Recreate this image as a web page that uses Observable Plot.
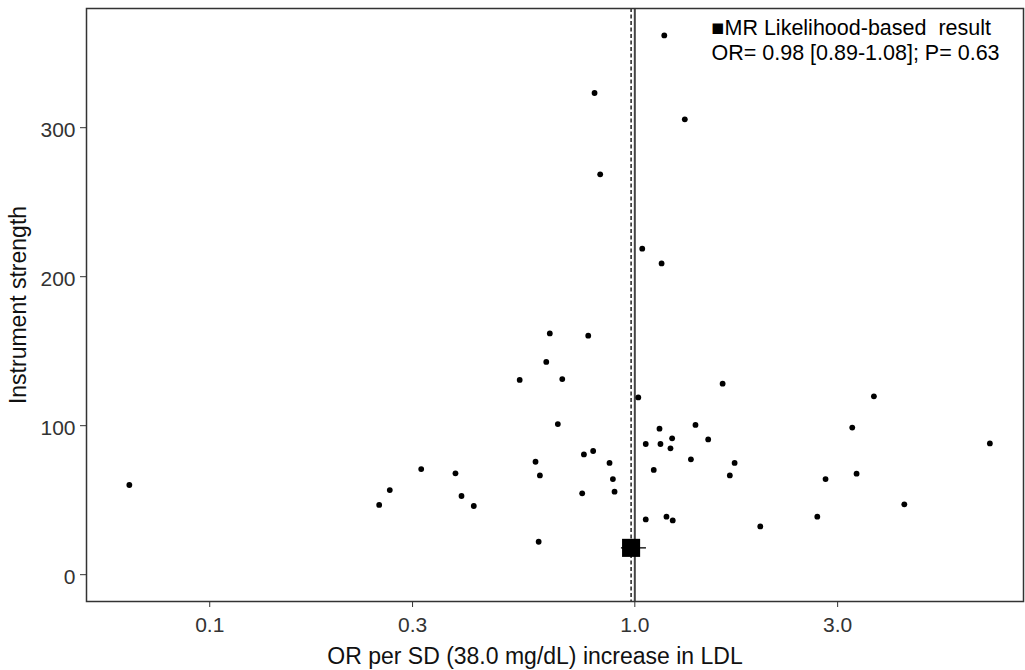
<!DOCTYPE html>
<html>
<head>
<meta charset="utf-8">
<script src="https://cdn.jsdelivr.net/npm/d3@7"></script>
<script src="https://cdn.jsdelivr.net/npm/@observablehq/plot@0.6"></script>
<style>
  html, body { margin: 0; padding: 0; background: #fff; }
  #chart { width: 1025px; height: 670px; }
</style>
</head>
<body>
<div id="chart"></div>
<script>
// Per-SNP odds ratios (x) and instrument strength (y)
const orValues = [
  0.0647, 0.2504, 0.2652, 0.3144, 0.3785, 0.3911, 0.4180,
  0.631, 0.777, 0.619, 0.536, 0.675, 1.609, 1.019, 0.659, 1.143, 1.389,
  1.224, 1.488, 1.061, 1.149, 1.213, 0.798, 0.759, 1.355, 0.584, 0.872,
  1.717, 1.108, 0.598, 1.673, 0.888, 0.752, 0.896, 1.061, 1.187, 1.228,
  1.973, 0.594,
  1.173, 0.804, 1.311, 0.829, 1.041, 1.156,
  3.651, 3.247, 6.843, 2.810, 3.324, 4.305, 2.687
];
const strengthValues = [
  60.2, 46.8, 56.8, 70.9, 68.0, 52.8, 46.1,
  161.9, 160.4, 142.8, 130.7, 131.3, 128.2, 119.0, 101.1, 98.0, 100.5,
  91.5, 90.8, 87.7, 87.7, 84.8, 83.0, 80.7, 77.4, 75.8, 75.0,
  75.0, 70.3, 66.6, 66.6, 64.2, 54.6, 55.7, 37.1, 38.9, 36.4,
  32.4, 22.1,
  361.9, 323.3, 305.6, 268.7, 218.8, 208.9,
  119.7, 98.7, 88.1, 64.2, 67.8, 47.2, 38.9
];

// Summary (MR likelihood-based) estimate
const summaryOR = [0.98];
const summaryStrength = [18];
const summaryCILow = [0.93];
const summaryCIHigh = [1.065];
const nullLine = [1];

const xTicks = [0.1, 0.3, 1, 3];
const yTicks = [0, 100, 200, 300];
const xTitle = ["OR per SD (38.0 mg/dL) increase in LDL"];
const legendLines = ["\u25A0MR Likelihood-based\u00A0 result", "OR= 0.98 [0.89-1.08]; P= 0.63"];

const points = orValues.map((v, i) => ({or: v, strength: strengthValues[i]}));
const summary = summaryOR.map((v, i) => ({or: v, strength: summaryStrength[i], lo: summaryCILow[i], hi: summaryCIHigh[i]}));

const chart = Plot.plot({
  width: 1025,
  height: 670,
  marginLeft: 86,
  marginRight: 2,
  marginTop: 8,
  marginBottom: 69,
  style: {fontFamily: "'Liberation Sans', Arial, sans-serif", fontSize: "21px", color: "#000", background: "#fff", overflow: "visible"},
  x: {type: "log", domain: [0.0513, 8.21]},
  y: {domain: [-18, 380]},
  marks: [
    Plot.ruleX(nullLine, {stroke: "#444", strokeWidth: 2}),
    Plot.ruleX(summaryOR, {stroke: "#000", strokeWidth: 1.3, strokeDasharray: "4,2.5"}),
    Plot.dot(points, {x: "or", y: "strength", r: 2.9, fill: "#000", stroke: null}),
    Plot.ruleY(summary, {x1: "lo", x2: "hi", y: "strength", stroke: "#000", strokeWidth: 1.3}),
    Plot.dot(summary, {x: "or", y: "strength", symbol: "square", r: 10.2, fill: "#000", stroke: null}),
    Plot.text([legendLines[0]], {frameAnchor: "top-right", text: d => d, dx: -312, dy: 11, textAnchor: "start", fontSize: 21.5, fill: "#000"}),
    Plot.text([legendLines[1]], {frameAnchor: "top-right", text: d => d, dx: -312, dy: 36, textAnchor: "start", fontSize: 21.5, fill: "#000"}),
    Plot.frame({stroke: "#333", strokeWidth: 1.5}),
    Plot.axisX({ticks: xTicks, tickFormat: d3.format(".1f"), tickSize: 6, tickPadding: 10, stroke: "#333",
      fill: "#333", fontSize: 21, labelArrow: "none", label: null}),
    Plot.text(xTitle, {frameAnchor: "bottom", text: d => d, dx: -20, dy: 55, lineAnchor: "middle",
      fontSize: 23, fill: "#111"}),
    Plot.axisY({ticks: yTicks, tickSize: 6, stroke: "#333", text: null, label: null}),
    Plot.axisY({ticks: yTicks, tickSize: 0, tickPadding: 11, fill: "#333", fontSize: 21, dy: 3, label: null}),
    Plot.axisY({ticks: [], label: "Instrument strength", labelAnchor: "center", labelArrow: "none", labelOffset: 77,
      fontSize: 23, fill: "#111"})
  ]
});
document.getElementById("chart").appendChild(chart);
</script>
</body>
</html>
